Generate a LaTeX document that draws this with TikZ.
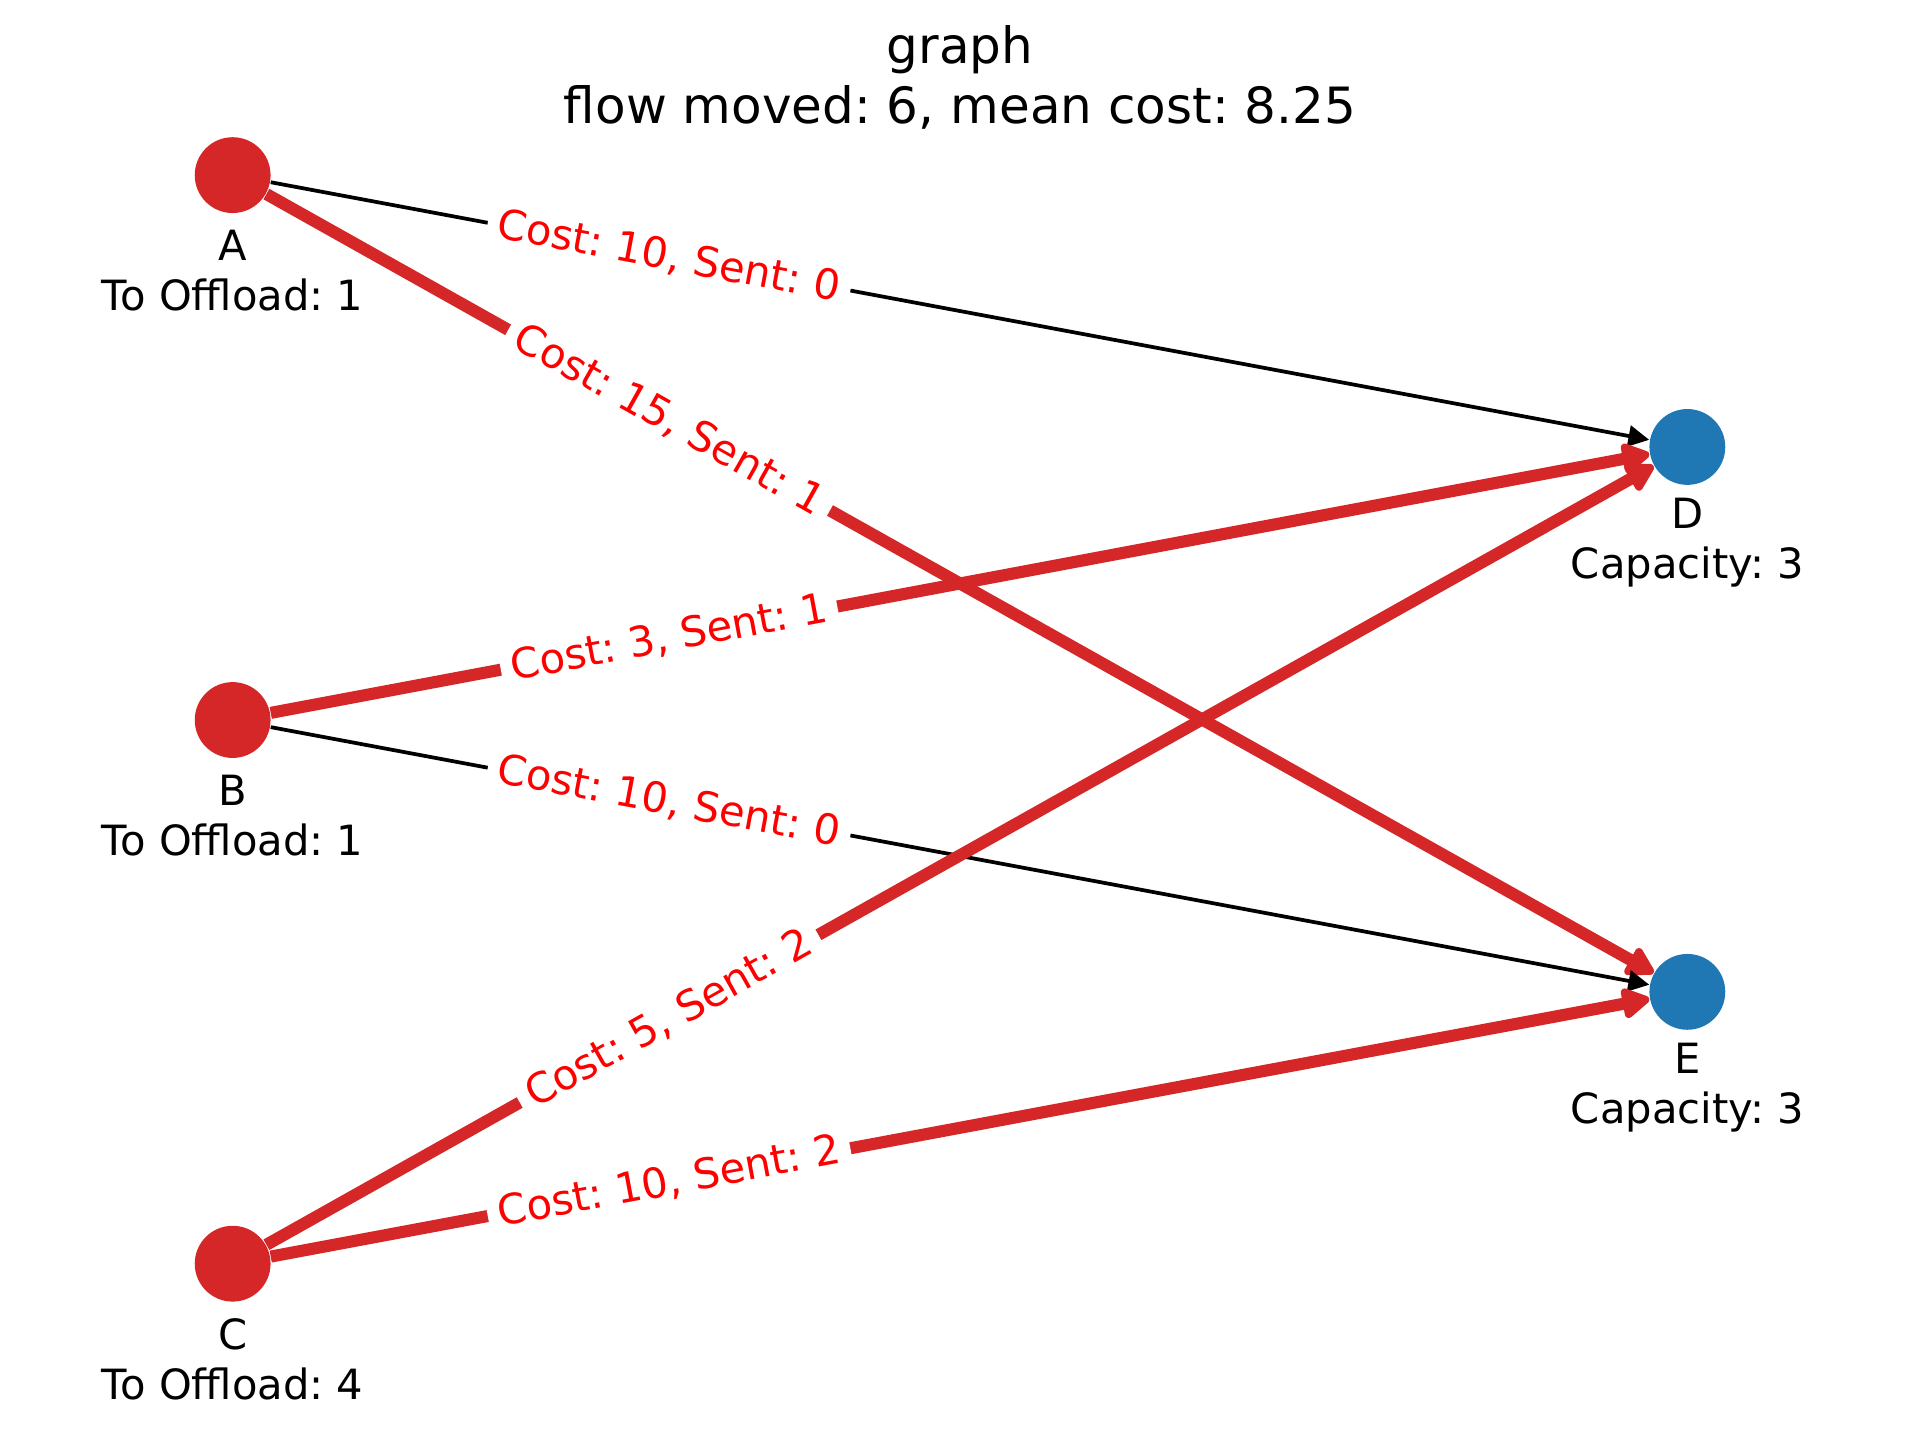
\documentclass[tikz,border=0pt]{standalone}
\usepackage{fontspec}
\setmainfont{DejaVu Sans}
\usetikzlibrary{arrows.meta}
\definecolor{tabred}{HTML}{D62728}
\definecolor{tabblue}{HTML}{1F77B4}
\definecolor{lblred}{HTML}{FF0000}
\pgfdeclarelayer{bg}
\pgfsetlayers{bg,main}
\frenchspacing
\begin{document}
\begin{tikzpicture}[x=0.293878pt,y=-0.293878pt,
  src/.style={circle,fill=tabred,minimum size=18.2pt,inner sep=0pt},
  dst/.style={circle,fill=tabblue,minimum size=18.2pt,inner sep=0pt},
  nlbl/.style={align=center,font=\fontsize{10}{12}\selectfont,inner sep=0pt},
  idle/.style={draw=black,line width=0.9pt,-{Triangle[length=5pt,width=5pt]}},
  flow/.style={draw=tabred,line width=2.9pt,line cap=butt,-{Triangle[length=7.5pt,width=8pt,round]}},
  elbl/.style={font=\fontsize{10}{12}\selectfont,text=lblred,fill=white,rounded corners=2pt,inner sep=2.5pt,sloped,pos=0.3}]
\useasboundingbox (0,0) rectangle (1568,1176);
\node[align=center,font=\fontsize{12}{14.4}\selectfont] (title) at (784,63) {graph\\flow moved: 6, mean cost: 8.25};
\node[src] (A) at (190,143) {};
\node[src] (B) at (190,588) {};
\node[src] (C) at (190,1032) {};
\node[dst] (D) at (1378,365) {};
\node[dst] (E) at (1378,810) {};
\node[nlbl] (Al) at (190,221) {A\\To Offload: 1};
\node[nlbl] (Bl) at (190,666) {B\\To Offload: 1};
\node[nlbl] (Cl) at (190,1110) {C\\To Offload: 4};
\node[nlbl] (Dl) at (1378,443) {D\\Capacity: 3};
\node[nlbl] (El) at (1378,888) {E\\Capacity: 3};
\begin{pgfonlayer}{bg}
\draw[idle] (A) -- (D);
\draw[flow] (A) -- (E);
\draw[flow] (B) -- (D);
\draw[idle] (B) -- (E);
\draw[flow] (C) -- (D);
\draw[flow] (C) -- (E);
\end{pgfonlayer}
\path (A.center) -- node[elbl] (lAD) {Cost: 10, Sent: 0} (D.center);
\path (A.center) -- node[elbl] (lAE) {Cost: 15, Sent: 1} (E.center);
\path (B.center) -- node[elbl] (lBD) {Cost: 3, Sent: 1} (D.center);
\path (B.center) -- node[elbl] (lBE) {Cost: 10, Sent: 0} (E.center);
\path (C.center) -- node[elbl] (lCD) {Cost: 5, Sent: 2} (D.center);
\path (C.center) -- node[elbl] (lCE) {Cost: 10, Sent: 2} (E.center);
\end{tikzpicture}
\end{document}
